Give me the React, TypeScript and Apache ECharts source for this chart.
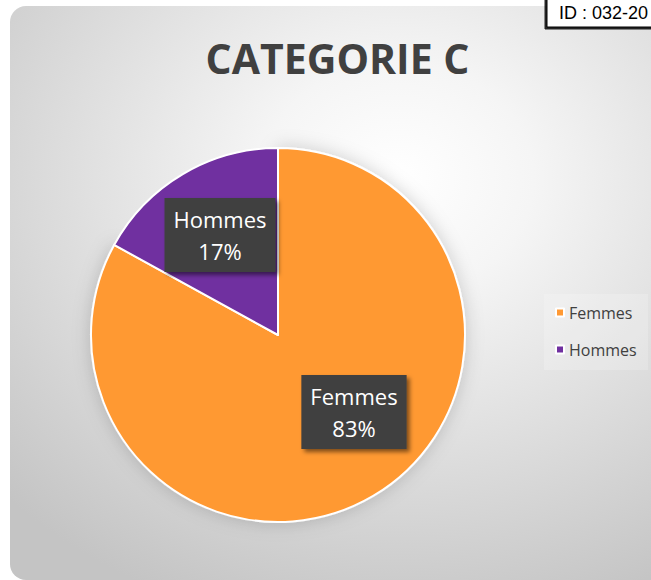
import React, { useEffect, useRef } from "react";
import * as echarts from "echarts";

const categories = ["Femmes", "Hommes"];
const values = [83, 17];
const colors = ["#FF9933", "#7030A0"];
const titleText = "CATEGORIE C";
const idText = "ID : 032-20";

export default function App() {
  const ref = useRef<HTMLDivElement>(null);
  useEffect(() => {
    if (!ref.current) return;
    const chart = echarts.init(ref.current, null, { renderer: "svg" });
    const labelPos: Record<number, [number, number]> = { 0: [354, 412], 1: [220, 235] };
    chart.setOption({
      animation: false,
      graphic: [
        {
          type: "rect",
          z: -10,
          shape: { x: 10, y: 6, width: 680, height: 574, r: 16 },
          style: {
            fill: {
              type: "radial",
              x: 0.57,
              y: 0.3,
              r: 0.8,
              colorStops: [
                { offset: 0, color: "#ffffff" },
                { offset: 0.25, color: "#f5f5f5" },
                { offset: 1, color: "#c4c4c4" },
              ],
            },
          },
        },
        {
          type: "rect",
          z: -9,
          shape: { x: 544, y: 294, width: 104, height: 76 },
          style: { fill: "rgba(255,255,255,0.2)" },
        },
        {
          type: "text",
          x: 337.5,
          y: 58,
          style: {
            text: titleText,
            fill: "#404040",
            font: "bold 41px 'Open Sans', sans-serif",
            align: "center",
            verticalAlign: "middle",
          },
        },
        {
          type: "rect",
          z: 10,
          shape: { x: 547, y: -2, width: 110, height: 29 },
          style: { fill: "#ffffff", stroke: "#000000", lineWidth: 1, shadowColor: "rgba(0,0,0,0.85)", shadowOffsetX: -2, shadowOffsetY: 2, shadowBlur: 0 },
        },
        {
          type: "text",
          z: 11,
          x: 559,
          y: 13,
          style: {
            text: idText,
            fill: "#000000",
            font: "18px 'Liberation Sans', Arial, sans-serif",
            align: "left",
            verticalAlign: "middle",
          },
        },
      ],
      legend: {
        orient: "vertical",
        left: 550,
        top: 298,
        itemWidth: 8,
        itemHeight: 8,
        itemGap: 18,
        itemTextGap: 6,
        icon: "rect",
        data: categories,
        textStyle: { fontFamily: "'Open Sans', sans-serif", fontSize: 16, color: "#404040", lineHeight: 19 },
      },
      series: [
        {
          type: "pie",
          center: [278, 335],
          radius: 187,
          startAngle: 90,
          clockwise: true,
          color: colors,
          itemStyle: { borderColor: "#ffffff", borderWidth: 2 },
          label: {
            show: true,
            position: "inside",
            formatter: (p: any) => `${p.name}\n${Math.round(p.percent)}%`,
            color: "#ffffff",
            fontFamily: "'Open Sans', sans-serif",
            fontSize: 22,
            lineHeight: 32,
            backgroundColor: "#404040",
            padding: [5, 9],
            shadowColor: "rgba(0,0,0,0.5)",
            shadowBlur: 4,
            shadowOffsetX: 3,
            shadowOffsetY: 3,
          },
          labelLine: { show: false },
          labelLayout: (params: any) => {
            const pos = labelPos[params.dataIndex];
            return { x: pos[0], y: pos[1], align: "center", verticalAlign: "middle" };
          },
          emphasis: { disabled: true },
          data: categories.map((c, i) => ({
            name: c,
            value: values[i],
            itemStyle: i === 0 ? { shadowColor: "rgba(0,0,0,0.18)", shadowBlur: 18 } : {},
          })),
        },
      ],
    });
    return () => chart.dispose();
  }, []);
  return (
    <div style={{ position: "absolute", left: 0, top: 0, width: 651, height: 580, background: "#ffffff" }}>
      <div ref={ref} style={{ width: 651, height: 580 }} />
    </div>
  );
}
